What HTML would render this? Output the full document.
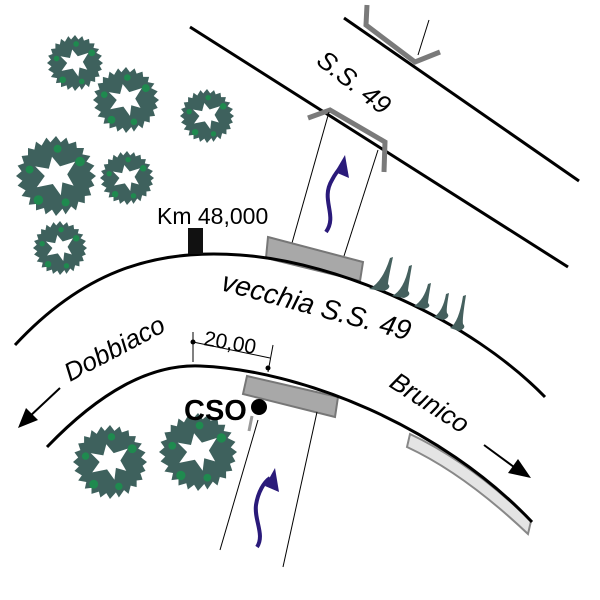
<!DOCTYPE html>
<html><head><meta charset="utf-8"><style>html,body{margin:0;padding:0;background:#fff}svg{display:block}text{font-family:"Liberation Sans",sans-serif}</style></head>
<body>
<svg width="600" height="600" viewBox="0 0 600 600" xmlns="http://www.w3.org/2000/svg">
<defs>
<g id="tree">
<polygon fill="#3e615d" points="50,0 44,5 48,12 41,15 44,24 36,25 36,34 28,32 25,43 19,38 12,48 8,41 0,50 -5,42 -13,48 -15,40 -25,43 -25,35 -34,36 -32,27 -43,25 -38,18 -48,12 -42,6 -50,0 -43,-6 -48,-13 -40,-16 -43,-25 -35,-26 -35,-35 -27,-33 -25,-43 -18,-38 -12,-48 -7,-42 0,-50 6,-42 13,-48 16,-40 25,-43 26,-35 35,-35 33,-27 43,-25 38,-18 48,-13 42,-6"/>
<circle cx="30" cy="-18" r="6" fill="#1f8a4f"/><circle cx="-22" cy="30" r="6" fill="#1f8a4f"/><circle cx="12" cy="33" r="5" fill="#1f8a4f"/><circle cx="-33" cy="-8" r="5" fill="#1f8a4f"/><circle cx="2" cy="-34" r="5" fill="#1f8a4f"/>
<polygon fill="#fff" points="-5,-24 5,-12 24,-18 14,-2 22,12 8,8 6,24 -4,10 -24,14 -14,0 -26,-12 -9,-9"/>
</g>
</defs>
<use href="#tree" transform="translate(75,63) scale(0.56)"/>
<use href="#tree" transform="translate(126,100) scale(0.66)"/>
<use href="#tree" transform="translate(207,116) scale(0.54)"/>
<use href="#tree" transform="translate(56,176) scale(0.8)"/>
<use href="#tree" transform="translate(127,178) scale(0.54)"/>
<use href="#tree" transform="translate(60,248) scale(0.54)"/>
<use href="#tree" transform="translate(110,462) scale(0.74)"/>
<use href="#tree" transform="translate(198,452) scale(0.78)"/>

<line x1="190" y1="27" x2="568" y2="267" stroke="#000" stroke-width="3"/>
<line x1="344" y1="18" x2="579" y2="181" stroke="#000" stroke-width="3"/>
<polyline points="367,5 366,25 415,62 440,52" fill="none" stroke="#7a7a7a" stroke-width="5"/>
<line x1="429" y1="20" x2="418" y2="55" stroke="#000" stroke-width="1"/>
<polyline points="308,118 330,110 385,142 384,172" fill="none" stroke="#7a7a7a" stroke-width="5"/>
<line x1="329" y1="112" x2="292" y2="243" stroke="#000" stroke-width="1"/>
<line x1="378" y1="150" x2="344" y2="256" stroke="#000" stroke-width="1"/>
<path d="M326,232 C338,215 320,200 332,180 C336,172 340,168 343,165" fill="none" stroke="#2a1a7a" stroke-width="4"/>
<polygon points="345,155 349,178 335,172" fill="#2a1a7a"/>
<text x="0" y="0" font-size="26" font-style="italic" transform="translate(315,63) rotate(38)">S.S. 49</text>

<polygon points="268,237 363,262 360,281 266,258" fill="#a8a8a8" stroke="#777" stroke-width="2"/>
<path d="M15,345 C80,275 150,248 240,255 C340,262 470,320 545,397" fill="none" stroke="#000" stroke-width="3"/>
<rect x="188" y="228" width="15" height="26" fill="#111"/>
<text x="157" y="224" font-size="23">Km 48,000</text>
<g fill="#45605e">
<path d="M369,289 Q382,283 390,258 L393,257 Q388,280 388,284 Q392,288 384,291Z"/>
<path d="M392,296 Q404,290 409,266 L412,265 Q408,288 408,291 Q412,295 404,298Z"/>
<path d="M414,306 Q424,300 428,284 L431,283 Q428,300 428,303 Q432,307 424,309Z"/>
<path d="M434,317 Q443,311 446,294 L449,293 Q446,310 447,313 Q451,317 443,320Z"/>
<path d="M450,328 Q459,322 463,296 L466,295 Q462,320 463,324 Q467,328 459,331Z"/>
</g>
<text x="0" y="0" font-size="28" font-style="italic" transform="translate(220,290) rotate(15)">vecchia S.S. 49</text>

<polygon points="247,376 338,397 335,417 243,394" fill="#a8a8a8" stroke="#777" stroke-width="2"/>
<path d="M410,434 C450,453 490,481 531,521 L528,534 C490,498 450,467 407,447 Z" fill="#e4e4e4" stroke="#888" stroke-width="2"/>
<path d="M47,447 C100,392 150,364 200,366 C300,370 440,425 532,522" fill="none" stroke="#000" stroke-width="3"/>
<text x="0" y="0" font-size="26" font-style="italic" transform="translate(70,382) rotate(-28)">Dobbiaco</text>
<line x1="60" y1="388" x2="28" y2="418" stroke="#000" stroke-width="2"/>
<polygon points="18,428 26,408 38,420" fill="#000"/>
<text x="0" y="0" font-size="26" font-style="italic" transform="translate(388,386) rotate(33)">Brunico</text>
<line x1="484" y1="445" x2="518" y2="470" stroke="#000" stroke-width="2"/>
<polygon points="531,478 508,473 518,459" fill="#000"/>
<line x1="193" y1="332" x2="193" y2="362" stroke="#000" stroke-width="1"/>
<line x1="273" y1="345" x2="268" y2="372" stroke="#000" stroke-width="1"/>
<line x1="193" y1="342" x2="270" y2="358" stroke="#000" stroke-width="1"/>
<circle cx="193" cy="342" r="2.5" fill="#000"/><circle cx="268" cy="368" r="2.5" fill="#000"/>
<text x="0" y="0" font-size="21" transform="translate(203,345) rotate(10)">20,00</text>
<text x="184" y="420" font-size="29" font-weight="bold">CSO</text>
<circle cx="259" cy="407" r="8" fill="#000"/>
<line x1="252" y1="416" x2="249" y2="431" stroke="#999" stroke-width="3"/>
<line x1="258" y1="420" x2="220" y2="550" stroke="#000" stroke-width="1"/>
<line x1="317" y1="412" x2="283" y2="567" stroke="#000" stroke-width="1"/>
<path d="M257,547 C265,535 254,520 256,505 C258,492 264,482 270,478" fill="none" stroke="#2a1a7a" stroke-width="4"/>
<polygon points="275,468 279,492 265,486" fill="#2a1a7a"/>
</svg>
</body></html>
